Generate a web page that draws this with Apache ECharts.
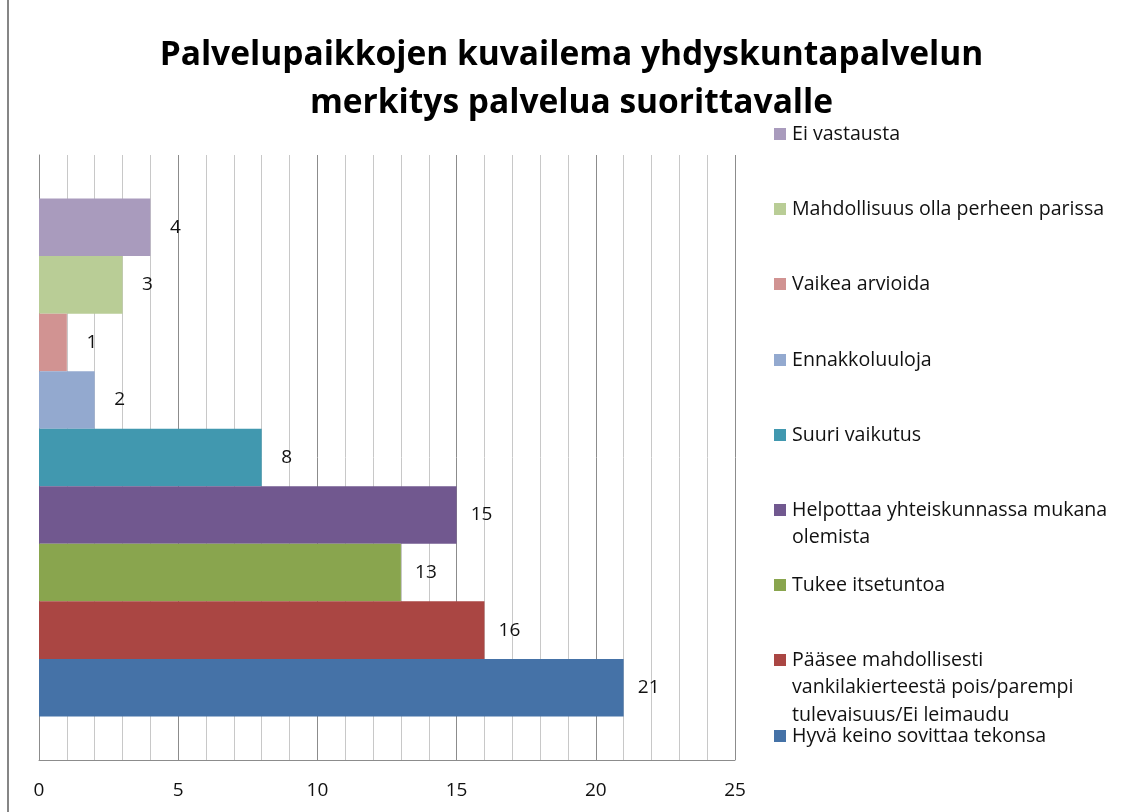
<!DOCTYPE html>
<html>
<head>
<meta charset="utf-8">
<script src="https://cdn.jsdelivr.net/npm/echarts@6/dist/echarts.min.js"></script>
<style>
  html, body { margin: 0; padding: 0; background: #fff; }
  #chart { height: 812px; box-sizing: border-box; border-left: 2px solid #868686; margin-left: 7px; width: 1127px; }
</style>
</head>
<body>
<div id="chart"></div>
<script>
// series listed bottom to top, like the original sheet
var names = [
  'Hyvä keino sovittaa tekonsa',
  'Pääsee mahdollisesti\nvankilakierteestä pois/parempi\ntulevaisuus/Ei leimaudu',
  'Tukee itsetuntoa',
  'Helpottaa yhteiskunnassa mukana\nolemista',
  'Suuri vaikutus',
  'Ennakkoluuloja',
  'Vaikea arvioida',
  'Mahdollisuus olla perheen parissa',
  'Ei vastausta'
]
var values = [21, 16, 13, 15, 8, 2, 1, 3, 4]
var colors = ['#4572A7', '#AA4643', '#89A54E', '#71588F', '#4198AF', '#93A9CF', '#D19392', '#B9CD96', '#A99BBD']
var xTicks = [0, 5, 10, 15, 20, 25]

// centre of the first legend line for each entry (px)
var legendTop = [736, 660, 585, 510, 435, 360, 284, 209, 134]

var font = '"Open Sans", Lato, sans-serif'
var lineH = 27.5

var chart = echarts.init(document.getElementById('chart'))

var legends = names.map(function (n, i) {
  var lines = n.split('\n').length
  var h = lines * lineH
  // square on the first line of the label
  var y0 = lineH / 2 - 6
  var icon = 'path://M0,0h12M0,' + y0 + 'h12v12h-12zM0,' + h + 'h12'
  return {
    data: [n],
    left: 765,
    top: legendTop[i] - lineH / 2,
    padding: 0,
    itemWidth: 12,
    itemHeight: h,
    itemGap: 0,
    icon: icon,
    selectedMode: false,
    textStyle: { fontFamily: font, fontSize: 19.6, color: '#111', lineHeight: lineH, padding: [0, 0, 0, 1] }
  }
})

// echarts puts the first series of a horizontal group at the top,
// so feed them in reverse to keep the sheet's bottom-to-top order
var order = names.map(function (n, i) { return names.length - 1 - i })

chart.setOption({
  animation: false,
  title: {
    text: 'Palvelupaikkojen kuvailema yhdyskuntapalvelun\nmerkitys palvelua suorittavalle',
    left: 'center',
    top: 31,
    padding: [0, 0, 0, 9],
    textStyle: { fontFamily: font, fontSize: 33.5, fontWeight: 'bold', color: '#000', lineHeight: 48 }
  },
  legend: legends,
  grid: { left: 30, right: 399, top: 155, bottom: 52, containLabel: false },
  xAxis: {
    type: 'value',
    min: 0,
    max: 25,
    interval: 5,
    axisLine: { show: true, lineStyle: { color: '#8c8c8c' } },
    axisTick: { show: false },
    axisLabel: {
      margin: 21,
      fontFamily: font,
      fontSize: 19,
      color: '#111',
      formatter: function (v) { return xTicks.indexOf(v) >= 0 ? String(v) : '' }
    },
    splitLine: { show: true, lineStyle: { color: '#8c8c8c', width: 1 } },
    minorTick: { show: false, splitNumber: 5 },
    minorSplitLine: { show: true, lineStyle: { color: '#c8c8c8', width: 1 } }
  },
  yAxis: {
    type: 'category',
    data: [''],
    axisLine: { show: true, lineStyle: { color: '#8c8c8c' } },
    axisTick: { show: false },
    axisLabel: { show: false }
  },
  series: order.map(function (i) {
    return {
      name: names[i],
      type: 'bar',
      data: [values[i]],
      barGap: '0%',
      barCategoryGap: '14.4%',
      itemStyle: { color: colors[i] },
      label: {
        show: true,
        position: 'right',
        distance: 25,
        align: 'center',
        fontFamily: font,
        fontSize: 19,
        color: '#111'
      }
    }
  })
})
</script>
</body>
</html>
